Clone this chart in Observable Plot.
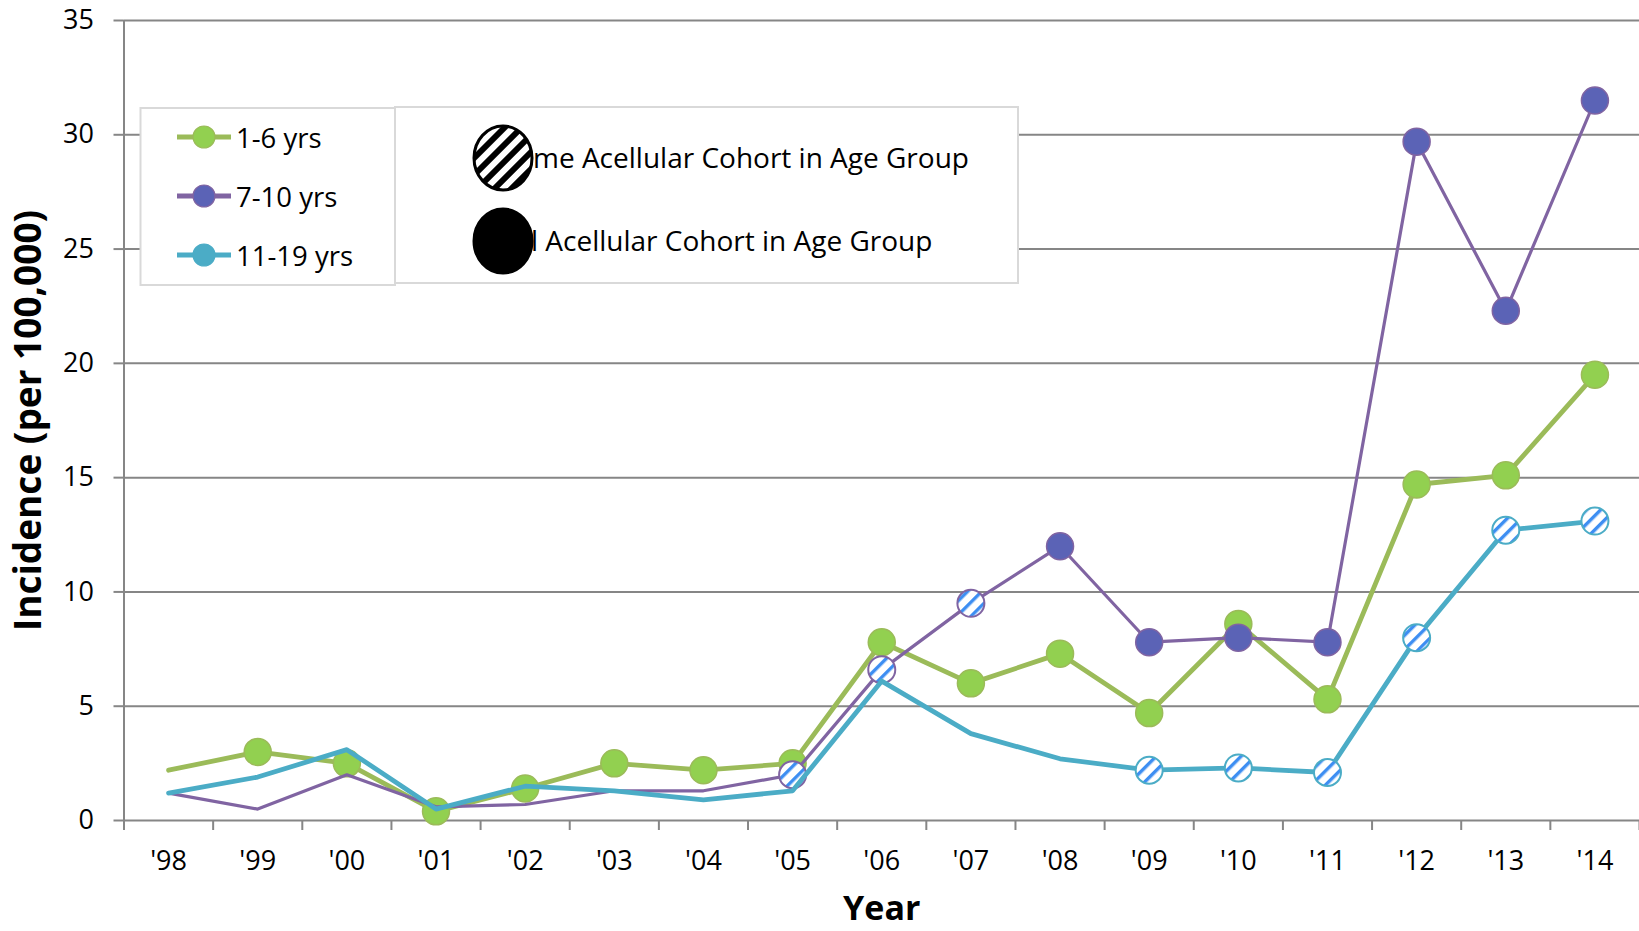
<!DOCTYPE html>
<html><head><meta charset="utf-8">
<script src="https://cdn.jsdelivr.net/npm/d3@7"></script>
<script src="https://cdn.jsdelivr.net/npm/@observablehq/plot@0.6"></script>
<style>
html,body{margin:0;padding:0;background:#fff;}
#chart svg{display:block;}
</style>
</head><body>
<svg width="0" height="0" style="position:absolute">
  <defs>
    <pattern id="hatchBlue" patternUnits="userSpaceOnUse" width="10" height="10" patternTransform="rotate(45)">
      <rect width="10" height="10" fill="#ffffff"></rect>
      <rect x="0" y="0" width="3.4" height="10" fill="#3d8ef2"></rect>
    </pattern>
    <pattern id="hatchBlack" patternUnits="userSpaceOnUse" width="12" height="12" patternTransform="rotate(45)">
      <rect width="12" height="12" fill="#ffffff"></rect>
      <rect x="0" y="0" width="6" height="12" fill="#000000"></rect>
    </pattern>
  </defs>
</svg>
<div id="chart"></div>
<script>
// ---- data ----
const years = ["'98","'99","'00","'01","'02","'03","'04","'05","'06","'07","'08","'09","'10","'11","'12","'13","'14"];
const yTicks = [0, 5, 10, 15, 20, 25, 30, 35];
const seriesNames = ["1-6 yrs", "7-10 yrs", "11-19 yrs"];
const values1to6   = [2.2, 3.0, 2.5, 0.4, 1.4, 2.5, 2.2, 2.5, 7.8, 6.0, 7.3, 4.7, 8.6, 5.3, 14.7, 15.1, 19.5];
const values7to10  = [1.2, 0.5, 2.0, 0.6, 0.7, 1.3, 1.3, 2.0, 6.6, 9.5, 12.0, 7.8, 8.0, 7.8, 29.7, 22.3, 31.5];
const values11to19 = [1.2, 1.9, 3.1, 0.5, 1.5, 1.3, 0.9, 1.3, 6.1, 3.8, 2.7, 2.2, 2.3, 2.1, 8.0, 12.7, 13.1];
// acellular cohort marker per year: "" = no marker, "some" = hatched, "all" = solid
const cohort1to6   = ["", "all","all","all","all","all","all","all","all","all","all","all","all","all","all","all","all"];
const cohort7to10  = ["", "", "", "", "", "", "", "some","some","some","all","all","all","all","all","all","all"];
const cohort11to19 = ["", "", "", "", "", "", "", "", "", "", "", "some","some","some","some","some","some"];
const legendCohortLabels = ["Some Acellular Cohort in Age Group", "All Acellular Cohort in Age Group"];

// ---- styles ----
const lineColors   = ["#9bbb59", "#8064a2", "#4bacc6"];
const markerFills  = ["#92d050", "#5b63b6", "#4bacc6"];
const lineWidths   = [4.8, 3.2, 4.8];
const gridColor = "#868686";
const FONT = "'Open Sans', sans-serif";

const W = 1639, H = 931;
const mL = 123.5, mR = 0, mT = 20, mB = 111;

const makeRows = (vals, cohort, s) => years.map((year, i) => ({i, year, value: vals[i], cohort: cohort[i], series: s}));
const allSeries = [
  makeRows(values1to6, cohort1to6, 0),
  makeRows(values7to10, cohort7to10, 1),
  makeRows(values11to19, cohort11to19, 2)
];

const idx = years.map((d, i) => i);
const bounds = years.map((d, i) => i - 0.5).concat([years.length - 0.5]);

const seriesMarks = allSeries.flatMap((rows, s) => [
  Plot.line(rows, {x: "i", y: "value", stroke: lineColors[s], strokeWidth: lineWidths[s]}),
  Plot.dot(rows, {filter: d => d.cohort === "all", x: "i", y: "value", r: 13.5,
    fill: markerFills[s], stroke: lineColors[s], strokeWidth: 1.5}),
  Plot.dot(rows, {filter: d => d.cohort === "some", x: "i", y: "value", r: 13.5,
    fill: "url(#hatchBlue)", stroke: lineColors[s], strokeWidth: 2})
]);

const chart = Plot.plot({
  width: W, height: H,
  marginLeft: mL, marginRight: mR, marginTop: mT, marginBottom: mB,
  style: {fontFamily: FONT, fontSize: "27px", color: "#000", background: "#fff", overflow: "visible"},
  x: {type: "linear", domain: [-0.5, years.length - 0.5], axis: null},
  y: {domain: [0, 35], axis: null},
  marks: [
    Plot.gridY({ticks: yTicks, stroke: gridColor, strokeOpacity: 1, strokeWidth: 2}),
    Plot.axisY({ticks: yTicks, tickSize: 10, tickPadding: 20, stroke: gridColor, strokeWidth: 2, fill: "#000", label: null, fontSize: 27}),
    Plot.axisX({ticks: bounds, tickSize: 10, tickFormat: () => "", stroke: gridColor, strokeWidth: 2, label: null}),
    Plot.axisX({ticks: idx, tickSize: 0, tickPadding: 30, tickFormat: i => years[i], fill: "#000", label: null, fontSize: 27}),
    Plot.ruleX([-0.5], {stroke: gridColor, strokeWidth: 2}),
    ...seriesMarks,
    Plot.text(["Year"], {frameAnchor: "bottom", dy: 89, fontSize: 34, fontWeight: "bold", fill: "#000", lineAnchor: "middle", textAnchor: "middle"}),
    Plot.text(["Incidence (per 100,000)"], {frameAnchor: "left", dx: -95, rotate: -90, fontSize: 37, fontWeight: "bold", fill: "#000", lineAnchor: "middle", textAnchor: "middle"})
  ]
});

document.getElementById("chart").appendChild(chart);

// ---- legend overlay ----
const svg = d3.select(chart);
const lg = svg.append("g").attr("font-family", FONT).attr("font-size", 27).attr("text-anchor", "start");
lg.append("rect").attr("x", 395).attr("y", 107).attr("width", 623).attr("height", 176)
  .attr("fill", "#fff").attr("stroke", "#d9d9d9").attr("stroke-width", 2);
lg.append("rect").attr("x", 140.5).attr("y", 108).attr("width", 254.5).attr("height", 177)
  .attr("fill", "#fff").attr("stroke", "#d9d9d9").attr("stroke-width", 2);
const entryY = [137, 196, 255];
seriesNames.forEach((name, s) => {
  const y = entryY[s];
  lg.append("line").attr("x1", 177).attr("x2", 231).attr("y1", y).attr("y2", y)
    .attr("stroke", lineColors[s]).attr("stroke-width", 4.8);
  lg.append("circle").attr("cx", 204).attr("cy", y).attr("r", 11)
    .attr("fill", markerFills[s]).attr("stroke", lineColors[s]).attr("stroke-width", 1.2);
  lg.append("text").attr("x", 236).attr("y", y).attr("dominant-baseline", "central")
    .attr("font-size", 27.5).attr("fill", "#000").text(name);
});
const cohortY = [157, 240];
const visibleStart = [533, 531];   // where the text emerges from behind the legend symbol
const hiddenChars = [2, 2];
legendCohortLabels.forEach((t, k) => {
  const txt = lg.append("text").attr("x", 0).attr("y", cohortY[k])
    .attr("dominant-baseline", "central").attr("font-size", 28).attr("fill", "#000").text(t);
  let hw = 0;
  try { hw = txt.node().getSubStringLength(0, hiddenChars[k]); } catch (e) { hw = 28; }
  txt.attr("x", visibleStart[k] - hw);
  lg.append("ellipse").attr("cx", 503).attr("cy", cohortY[k] + 1).attr("rx", 29).attr("ry", 32)
    .attr("fill", k === 0 ? "url(#hatchBlack)" : "#000").attr("stroke", "#000").attr("stroke-width", 3);
});
</script>
</body></html>
